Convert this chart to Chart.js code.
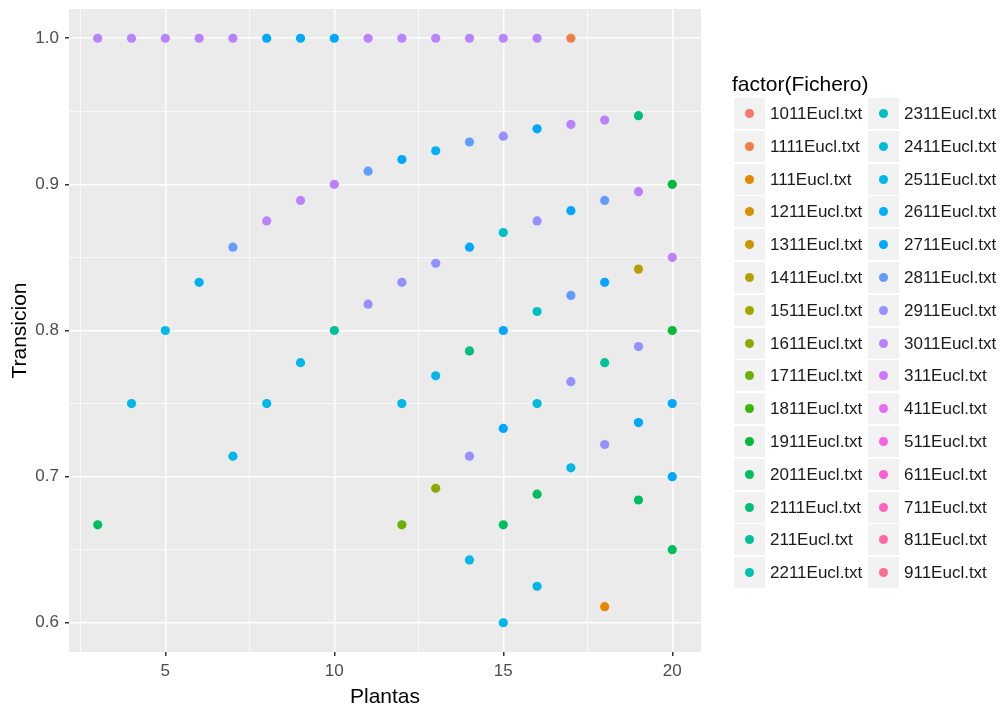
<!DOCTYPE html>
<html>
<head>
<meta charset="utf-8">
<script src="https://cdn.jsdelivr.net/npm/chart.js@4/dist/chart.umd.min.js"></script>
<style>
  body { margin: 0; background: #fff; font-family: "Liberation Sans", Arial, sans-serif; }
  #wrap { position: relative; width: 1005px; height: 711px; }
  #legend { position: absolute; left: 0; top: 0; }
  .ltitle { position: absolute; left: 732px; top: 72px; font-size: 21px; line-height: 24px; color: #000; white-space: nowrap; }
  .lkey { position: absolute; width: 31px; height: 31px; background: #f2f2f2; }
  .ldot { position: absolute; left: 11px; top: 11px; width: 9px; height: 9px; border-radius: 50%; }
  .llab { position: absolute; font-size: 17px; line-height: 31px; color: #1a1a1a; white-space: nowrap; }
</style>
</head>
<body>
<div id="wrap">
  <canvas id="chart" width="1005" height="711"></canvas>
  <div id="legend"></div>
</div>
<script>
// niveles del factor (orden alfabetico, como en ggplot)
const ficheros = ["1011Eucl.txt", "1111Eucl.txt", "111Eucl.txt", "1211Eucl.txt", "1311Eucl.txt",
  "1411Eucl.txt", "1511Eucl.txt", "1611Eucl.txt", "1711Eucl.txt", "1811Eucl.txt",
  "1911Eucl.txt", "2011Eucl.txt", "2111Eucl.txt", "211Eucl.txt", "2211Eucl.txt",
  "2311Eucl.txt", "2411Eucl.txt", "2511Eucl.txt", "2611Eucl.txt", "2711Eucl.txt",
  "2811Eucl.txt", "2911Eucl.txt", "3011Eucl.txt", "311Eucl.txt", "411Eucl.txt",
  "511Eucl.txt", "611Eucl.txt", "711Eucl.txt", "811Eucl.txt", "911Eucl.txt"];

// datos en formato largo: una fila por punto
const plantas = [
  3, 4, 5, 6, 7, 8, 9, 10, 11, 12, 13, 14, 15, 16, 17,
  3, 4, 5, 6, 7, 8, 9, 10, 11, 12, 13, 14, 15, 16, 17, 18, 19,
  7, 8, 9, 10, 11, 12, 13, 14, 15, 16, 17, 18, 19, 20,
  12, 13, 14, 15, 16, 17, 18, 19, 20,
  12, 13, 14, 15, 16, 17, 18, 19, 20,
  14, 15, 16, 17, 18, 19, 20,
  15, 16, 18, 19, 20, 20
];
const transicion = [
  1, 1, 1, 1, 1, 1, 1, 1, 1, 1, 1, 1, 1, 1, 1,
  0.667, 0.75, 0.8, 0.833, 0.857, 0.875, 0.889, 0.9, 0.909, 0.917, 0.923, 0.929, 0.933, 0.938, 0.941, 0.944, 0.947,
  0.714, 0.75, 0.778, 0.8, 0.818, 0.833, 0.846, 0.857, 0.867, 0.875, 0.882, 0.889, 0.895, 0.9,
  0.75, 0.769, 0.786, 0.8, 0.813, 0.824, 0.833, 0.842, 0.85,
  0.667, 0.692, 0.714, 0.733, 0.75, 0.765, 0.778, 0.789, 0.8,
  0.643, 0.667, 0.688, 0.706, 0.722, 0.737, 0.75,
  0.6, 0.625, 0.611, 0.684, 0.7, 0.65
];
const fichero = [
  "3011", "3011", "3011", "3011", "3011", "2711", "2711", "2711", "3011", "3011", "3011", "3011", "3011", "3011", "1111",
  "2011", "2511", "2511", "2611", "2811", "3011", "3011", "3011", "2811", "2711", "2611", "2811", "2911", "2711", "3011", "3011", "2111",
  "2511", "2511", "2511", "211", "2911", "2911", "2911", "2711", "2311", "2911", "2711", "2811", "3011", "1911",
  "2511", "2511", "2111", "2711", "2311", "2811", "2711", "1411", "3011",
  "1711", "1611", "2911", "2711", "2411", "2911", "211", "2911", "1911",
  "2511", "2011", "2011", "2511", "2911", "2711", "2711",
  "2511", "2511", "111", "2011", "2711", "2011"
].map(f => f + "Eucl.txt");

// ticks
const xMajor = [5, 10, 15, 20];
const xMinor = [2.5, 7.5, 12.5, 17.5];
const yMajor = [0.6, 0.7, 0.8, 0.9, 1.0];
const yMinor = [0.65, 0.75, 0.85, 0.95];

// paleta hue de ggplot (hcl, c=100, l=65)
function hcl(h, c, l) {
  const hr = h * Math.PI / 180;
  const U = c * Math.cos(hr), V = c * Math.sin(hr);
  const Y = l > 8 ? Math.pow((l + 16) / 116, 3) : l / 903.3;
  const un = 0.1978398, vn = 0.4683363;
  const up = U / (13 * l) + un, vp = V / (13 * l) + vn;
  const X = Y * 9 * up / (4 * vp);
  const Z = Y * (12 - 3 * up - 20 * vp) / (4 * vp);
  const lin = [
    3.2404542 * X - 1.5371385 * Y - 0.4985314 * Z,
    -0.9692660 * X + 1.8760108 * Y + 0.0415560 * Z,
    0.0556434 * X - 0.2040259 * Y + 1.0572252 * Z
  ];
  return '#' + lin.map(v => {
    v = v <= 0.0031308 ? 12.92 * v : 1.055 * Math.pow(v, 1 / 2.4) - 0.055;
    v = Math.round(Math.min(1, Math.max(0, v)) * 255);
    return v.toString(16).padStart(2, '0');
  }).join('');
}
const colores = ficheros.map((f, i) => hcl(15 + i * 360 / ficheros.length, 100, 65));

// un dataset por nivel
const datasets = ficheros.map((f, i) => ({
  label: f,
  data: plantas.map((x, k) => ({ x: x, y: transicion[k], f: fichero[k] }))
    .filter(p => p.f === f),
  backgroundColor: colores[i],
  borderWidth: 0,
  pointRadius: 4.6,
  pointHoverRadius: 4.6
}));

const panelBg = {
  id: 'panelBg',
  beforeDraw(chart) {
    const a = chart.chartArea;
    chart.ctx.save();
    chart.ctx.fillStyle = '#ebebeb';
    chart.ctx.fillRect(a.left, a.top, a.right - a.left, a.bottom - a.top);
    chart.ctx.restore();
  }
};

const isMajor = (list, v) => list.some(m => Math.abs(m - v) < 1e-6);

new Chart(document.getElementById('chart'), {
  type: 'scatter',
  data: { datasets: datasets },
  plugins: [panelBg],
  options: {
    responsive: false,
    animation: false,
    layout: { padding: { left: 0, right: 304, top: 9, bottom: 0 } },
    plugins: { legend: { display: false }, tooltip: { enabled: false } },
    scales: {
      x: {
        min: 2.15, max: 20.85,
        afterFit: s => { s.height = 59; s.paddingLeft = 0; s.paddingRight = 0; },
        afterBuildTicks: s => { s.ticks = xMinor.concat(xMajor).sort((a, b) => a - b).map(v => ({ value: v })); },
        border: { display: false },
        grid: {
          color: '#ffffff',
          lineWidth: c => isMajor(xMajor, c.tick.value) ? 1.5 : 0.7,
          tickColor: c => isMajor(xMajor, c.tick.value) ? '#333333' : 'rgba(0,0,0,0)',
          tickLength: 4
        },
        ticks: {
          autoSkip: false, maxRotation: 0, padding: 5,
          color: '#4d4d4d',
          font: { family: 'Liberation Sans', size: 17 },
          callback: v => isMajor(xMajor, v) ? String(v) : ''
        },
        title: {
          display: true, text: 'Plantas', color: '#000',
          font: { family: 'Liberation Sans', size: 21 },
          padding: { top: 0, bottom: 1 }
        }
      },
      y: {
        min: 0.58, max: 1.02,
        afterFit: s => { s.width = 69; s.paddingTop = 0; s.paddingBottom = 0; },
        afterBuildTicks: s => { s.ticks = yMinor.concat(yMajor).sort((a, b) => a - b).map(v => ({ value: v })); },
        border: { display: false },
        grid: {
          color: '#ffffff',
          lineWidth: c => isMajor(yMajor, c.tick.value) ? 1.5 : 0.7,
          tickColor: c => isMajor(yMajor, c.tick.value) ? '#333333' : 'rgba(0,0,0,0)',
          tickLength: 4
        },
        ticks: {
          autoSkip: false, padding: 6,
          color: '#4d4d4d',
          font: { family: 'Liberation Sans', size: 17 },
          callback: v => isMajor(yMajor, v) ? v.toFixed(1) : ''
        },
        title: {
          display: true, text: 'Transicion', color: '#000',
          font: { family: 'Liberation Sans', size: 21 },
          padding: { top: 8, bottom: 0 }
        }
      }
    }
  }
});

// leyenda en dos columnas
const legend = document.getElementById('legend');
legend.innerHTML = '<div class="ltitle">factor(Fichero)</div>';
ficheros.forEach((f, i) => {
  const col = Math.floor(i / 15), row = i % 15;
  const top = 98 + row * 32.8;
  const keyLeft = col === 0 ? 734 : 868;
  const key = document.createElement('div');
  key.className = 'lkey';
  key.style.left = keyLeft + 'px';
  key.style.top = top + 'px';
  key.innerHTML = `<div class="ldot" style="background:${colores[i]}"></div>`;
  legend.appendChild(key);
  const lab = document.createElement('div');
  lab.className = 'llab';
  lab.style.left = (keyLeft + 36) + 'px';
  lab.style.top = top + 'px';
  lab.textContent = f;
  legend.appendChild(lab);
});
</script>
</body>
</html>
